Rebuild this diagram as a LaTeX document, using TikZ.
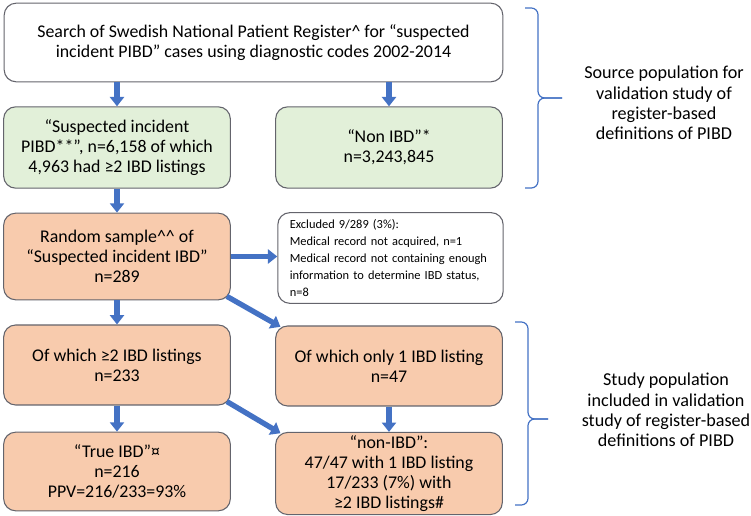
\documentclass[tikz,border=0pt]{standalone}
\usepackage{fontspec}
\setmainfont{Carlito}
\usetikzlibrary{arrows.meta,positioning}
\definecolor{boxgray}{RGB}{100,100,108}
\definecolor{mintgreen}{RGB}{226,240,217}
\definecolor{peach}{RGB}{248,203,173}
\definecolor{arrblue}{RGB}{68,114,196}

\begin{document}
\begin{tikzpicture}[x=0.75pt,y=-0.75pt,
  box/.style={rectangle, draw=boxgray, line width=0.8pt, rounded corners=9pt,
              text centered, align=center, inner sep=2pt,
              font=\fontsize{13.4}{15.2}\selectfont},
  wbox/.style={box, fill=white, minimum width=374pt, minimum height=59pt},
  gbox/.style={box, fill=mintgreen, minimum width=170pt, minimum height=61pt},
  obox/.style={box, fill=peach, minimum width=170pt, minimum height=60pt},
  arr/.style={-{Triangle[width=10.5pt,length=7pt]}, line width=4pt, arrblue},
  brk/.style={draw=arrblue, line width=0.9pt, rounded corners=5pt},
  lbl/.style={align=center, font=\fontsize{13.6}{15.2}\selectfont}
]
\useasboundingbox (0,0) rectangle (751,516);

\node[wbox](srch) at (253.5,42.5){Search of Swedish National Patient Register\textasciicircum{} for “suspected\\incident PIBD” cases using diagnostic codes 2002-2014};
\node[gbox](susp) at (117,147.5){“Suspected incident\\PIBD**”, n=6,158 of which\\4,963 had ≥2 IBD listings};
\node[gbox](nibd) at (389,147.5){“Non IBD”*\\n=3,243,845};
\node[obox,minimum height=65pt](rand) at (117,256.5){Random sample\textasciicircum\textasciicircum{} of\\“Suspected incident IBD”\\n=289};
\node[box,fill=white,minimum width=169pt,minimum height=68pt,align=left,inner xsep=9pt,
      text width=151pt,font=\fontsize{9.3}{12.7}\selectfont](excl) at (390.5,258)
  {Excluded 9/289 (3\%):\\Medical record not acquired, n=1\\Medical record not containing enough\\information to determine IBD status,\\n=8};
\node[obox](multi) at (117,365){Of which ≥2 IBD listings\\n=233};
\node[obox](single) at (389,366){Of which only 1 IBD listing\\n=47};
\node[obox,minimum height=59pt](true) at (117,471.5){“True IBD”¤\\n=216\\PPV=216/233=93\%};
\node[obox,minimum height=59pt](nonib) at (389,473.5){“non-IBD”:\\47/47 with 1 IBD listing\\17/233 (7\%) with\\≥2 IBD listings\#};

\node[lbl](srclbl) at (664,103){Source population for\\validation study of\\register-based\\definitions of PIBD};
\node[lbl](studylbl) at (666,410){Study population\\included in validation\\study of register-based\\definitions of PIBD};

\draw[arr](susp |- srch.south)--(susp.north);
\draw[arr](nibd |- srch.south)--(nibd.north);
\draw[arr](susp.south)--(rand.north);
\draw[arr](rand.east)--(rand.east -| excl.west);
\draw[arr](rand.south)--(multi.north);
\draw[arr]([xshift=-3pt,yshift=3pt]rand.south east)--([xshift=4pt,yshift=-1pt]single.north west);
\draw[arr](multi.south)--(true.north);
\draw[arr]([xshift=-3pt,yshift=3pt]multi.south east)--([xshift=4pt,yshift=-1pt]nonib.north west);
\draw[arr](single.south)--(nonib.north);

% brackets
\draw[brk](525,8)-|(538,98)--(562,98);
\draw[brk](562,98)-|(538,188)--(525,188);
\draw[brk](515,322)-|(528,419)--(548,419);
\draw[brk](548,419)-|(528,505)--(515,505);
\end{tikzpicture}
\end{document}
